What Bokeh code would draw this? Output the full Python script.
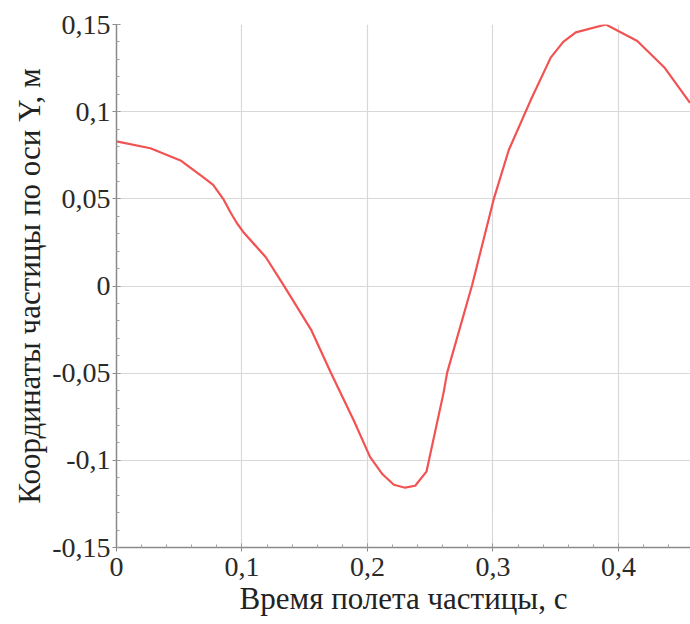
from bokeh.plotting import figure
from bokeh.models import Range1d, FixedTicker
from bokeh.embed import file_html
from bokeh.resources import INLINE

t = [0, 0.027, 0.051, 0.069, 0.077, 0.085, 0.091, 0.096, 0.101, 0.119, 0.133, 0.155,
     0.171, 0.189, 0.202, 0.212, 0.221, 0.230, 0.238, 0.247, 0.2606, 0.2635, 0.2834,
     0.3006, 0.3126, 0.330, 0.346, 0.356, 0.366, 0.390, 0.415, 0.437, 0.457]
y = [0.083, 0.079, 0.072, 0.0624, 0.058, 0.050, 0.042, 0.036, 0.031, 0.0165, 0.0006,
     -0.025, -0.050, -0.077, -0.098, -0.108, -0.114, -0.1157, -0.1146, -0.1065,
     -0.0613, -0.0497, 0.0006, 0.0498, 0.078, 0.1065, 0.131, 0.140, 0.1455, 0.150,
     0.1405, 0.125, 0.105]

x_ticks = [0, 0.1, 0.2, 0.3, 0.4]
x_labels = ["0", "0,1", "0,2", "0,3", "0,4"]
y_ticks = [-0.15, -0.1, -0.05, 0, 0.05, 0.1, 0.15]
y_labels = ["-0,15", "-0,1", "-0,05", "0", "0,05", "0,1", "0,15"]
x_minor = [i * 0.02 for i in range(0, 23)]
y_minor = [-0.15 + i * 0.01 for i in range(0, 31)]

x_title = "Время полета частицы, с"
y_title = "Координаты частицы по оси Y, м"

p = figure(width=690, height=624, output_backend="svg", toolbar_location=None,
           x_range=Range1d(0, 0.4574), y_range=Range1d(-0.15, 0.15),
           min_border_left=116, min_border_right=0, min_border_top=24,
           min_border_bottom=77)
p.outline_line_color = None
p.background_fill_color = "white"

p.line(t, y, line_color="#f25252", line_width=2.2, line_join="round")

for ax, ticks, labels, minor in ((p.xaxis[0], x_ticks, x_labels, x_minor),
                                 (p.yaxis[0], y_ticks, y_labels, y_minor)):
    ax.ticker = FixedTicker(ticks=ticks, minor_ticks=minor)
    ax.major_label_overrides = {tk: lb for tk, lb in zip(ticks, labels)}
    ax.major_label_text_font = "Liberation Serif"
    ax.major_label_text_font_size = "28px"
    ax.major_label_text_color = "#2a2a2a"
    ax.axis_label_text_font = "Liberation Serif"
    ax.axis_label_text_font_size = "31px"
    ax.axis_label_text_font_style = "normal"
    ax.axis_label_text_color = "#222222"
    ax.axis_line_color = "#8a8a8a"
    ax.axis_line_width = 1.5
    ax.major_tick_line_color = "#8a8a8a"
    ax.minor_tick_line_color = "#a0a0a0"
    ax.major_tick_in = 4
    ax.major_tick_out = 4
    ax.minor_tick_in = 3
    ax.minor_tick_out = 0

p.xaxis.major_label_standoff = 6
p.yaxis.major_label_standoff = 2
p.xaxis.axis_label = x_title
p.yaxis.axis_label = y_title
p.xaxis.axis_label_standoff = 2
p.yaxis.axis_label_standoff = 2

p.xgrid.ticker = FixedTicker(ticks=x_ticks)
p.ygrid.ticker = FixedTicker(ticks=y_ticks)
p.grid.grid_line_color = "#d8d8d8"
p.grid.grid_line_width = 1.2

open("out.html", "w").write(file_html(p, INLINE))
